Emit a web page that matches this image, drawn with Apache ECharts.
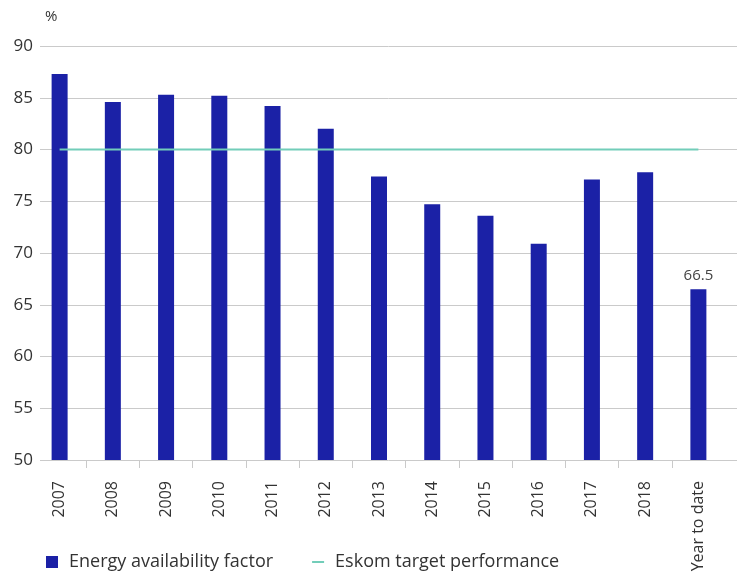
<!DOCTYPE html>
<html>
<head>
<meta charset="utf-8">
<script src="https://cdn.jsdelivr.net/npm/echarts@6/dist/echarts.min.js"></script>
<style>
html,body{margin:0;padding:0;background:#fff;}
#chart{width:737px;height:574px;}
</style>
</head>
<body>
<div id="chart"></div>
<script>
const categories = ['2007','2008','2009','2010','2011','2012','2013','2014','2015','2016','2017','2018','Year to date'];
const availability = [87.3, 84.6, 85.3, 85.2, 84.2, 82.0, 77.4, 74.7, 73.6, 70.9, 77.1, 77.8, 66.5];
const target = [80, 80, 80, 80, 80, 80, 80, 80, 80, 80, 80, 80, 80];
const yMin = 50, yMax = 90, yStep = 5;
const seriesNames = ['Energy availability factor', 'Eskom target performance'];
const unitLabel = '%';
const boundaryTicks = categories.slice(1);

const FONT = 'Open Sans';
const TXT = '#333333';
const GRID = '#cacaca';
const BAR = '#1b21a6';
const TEAL = '#72cdb9';

const chart = echarts.init(document.getElementById('chart'), null, {renderer: 'canvas'});
chart.setOption({
  animation: false,
  backgroundColor: '#ffffff',
  textStyle: {fontFamily: FONT},
  title: {
    text: unitLabel, left: 40, top: 4,
    textStyle: {fontFamily: FONT, fontSize: 15, fontWeight: 'normal', color: TXT}
  },
  legend: {
    left: 41, top: 548,
    itemWidth: 12, itemHeight: 12, itemGap: 39,
    textStyle: {fontFamily: FONT, fontSize: 18, color: TXT, padding: [0, 0, 0, 6]},
    data: [
      {name: seriesNames[0], icon: 'rect'},
      {name: seriesNames[1], icon: 'path://M0,0 L12,0 L12,2 L0,2 Z'}
    ]
  },
  grid: [
    {left: 40, right: 0, top: 46, bottom: 114, outerBoundsMode: 'none', containLabel: false},
    {left: 33, right: 12, top: 46, bottom: 114, outerBoundsMode: 'none', containLabel: false},
    {left: 86.2, right: 65.2, top: 46, bottom: 114, outerBoundsMode: 'none', containLabel: false}
  ],
  xAxis: [
    {type: 'value', gridIndex: 0, show: false, min: 0, max: 1},
    {
      type: 'category', gridIndex: 1, data: categories, boundaryGap: true,
      axisLine: {show: false}, axisTick: {show: false},
      axisLabel: {rotate: 90, margin: 21, fontFamily: FONT, fontSize: 16, color: TXT, interval: 0}
    },
    {
      type: 'category', gridIndex: 2, data: boundaryTicks, boundaryGap: false,
      axisLine: {show: false},
      axisTick: {show: true, length: 8, interval: 0, lineStyle: {color: GRID, width: 1}},
      axisLabel: {show: false}
    }
  ],
  yAxis: [
    {
      type: 'value', gridIndex: 0, min: yMin, max: yMax, interval: yStep,
      axisLine: {show: false}, axisTick: {show: false},
      axisLabel: {margin: 7, fontFamily: FONT, fontSize: 17, color: TXT},
      splitLine: {show: true, lineStyle: {color: GRID, width: 1}}
    },
    {type: 'value', gridIndex: 1, min: yMin, max: yMax, show: false},
    {type: 'value', gridIndex: 2, min: 0, max: 1, show: false}
  ],
  series: [
    {
      name: seriesNames[0], type: 'bar', xAxisIndex: 1, yAxisIndex: 1,
      barWidth: 16, itemStyle: {color: BAR},
      label: {show: false, position: 'top', distance: 6, fontFamily: FONT, fontSize: 15, color: '#444'},
      data: availability.map((v, i) => i === availability.length - 1 ? {value: v, label: {show: true}} : v),
      z: 2
    },
    {
      name: seriesNames[1], type: 'line', xAxisIndex: 1, yAxisIndex: 1,
      symbol: 'none', lineStyle: {color: TEAL, width: 2}, itemStyle: {color: TEAL},
      data: target, z: 3
    }
  ]
});
</script>
</body>
</html>
